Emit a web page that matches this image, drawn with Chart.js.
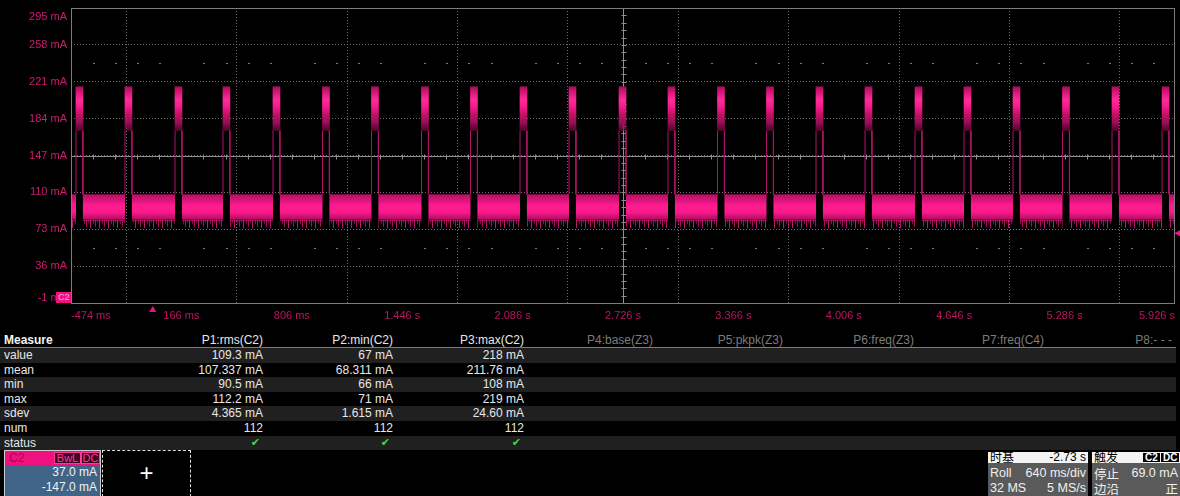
<!DOCTYPE html>
<html>
<head>
<meta charset="utf-8">
<script src="https://cdn.jsdelivr.net/npm/chart.js@4.4.1/dist/chart.umd.min.js"></script>
<style>
html, body { margin: 0; padding: 0; background: #000; }
body { width: 1180px; height: 496px; position: relative; overflow: hidden; font-family: "Liberation Sans", Arial, sans-serif; }
#scope { position: absolute; left: 0; top: 0; }
.row { position: absolute; left: 0; width: 1176px; }
.row.alt { background: #202020; }
.cell { position: absolute; top: 0; font-size: 12px; color: #e8e8e8; white-space: nowrap; }
.hdr { border-bottom: 1px solid #7a7a7a; }
.hdr .cell.off { color: #7c7c7c; }
.ok { color: #45d443; font-family: "DejaVu Sans", sans-serif; font-size: 11px; }
#chbox { position: absolute; left: 4px; top: 450px; width: 95px; height: 45px; border: 1px solid #cfcfcf; }
#chhead { position: absolute; left: 0; top: 0; width: 95px; height: 14px; background: #ef117f; }
#chhead .nm { position: absolute; left: 4px; top: 0; line-height: 14px; font-size: 12px; color: #9e0b4f; }
.badge { position: absolute; top: 1px; height: 10px; line-height: 10px; font-size: 11px; color: #ff3a9c; background: #3e0621; border: 1px solid #ff3a9c; text-align: center; }
#chbody { position: absolute; left: 0; top: 14px; width: 95px; height: 31px; background: #3f6487; color: #f2f2f2; font-size: 12px; text-align: right; }
#chbody div { padding-right: 3px; line-height: 15px; }
#addbox { position: absolute; left: 102px; top: 450px; width: 87px; height: 45px; border: 1px dashed #e0e0e0; color: #fff; font-size: 24px; text-align: center; line-height: 43px; font-weight: 300; }
.wbox { position: absolute; top: 452px; height: 11px; background: #f4f4f4; color: #000; font-size: 12px; line-height: 11px; }
.gbox { position: absolute; top: 463px; height: 33px; background: #5a5a5a; color: #f0f0f0; font-size: 12.5px; }
.l { position: absolute; left: 2px; white-space: nowrap; }
.r { position: absolute; right: 2px; white-space: nowrap; }
.cjk { font-family: "Noto Sans CJK SC", sans-serif; }
.kb { position: absolute; top: 1px; height: 9px; line-height: 9px; background: #000; color: #fff; font-size: 10px; padding: 0 2px; font-weight: bold; }
</style>
</head>
<body>
<canvas id="scope" width="1180" height="332"></canvas>
<div id="table"></div>

<div id="chbox">
  <div id="chhead"><span class="nm">C2</span><span class="badge" style="left:49px;width:25px;">BwL</span><span class="badge" style="left:76px;width:17px;">DC</span></div>
  <div id="chbody"><div>37.0 mA</div><div>-147.0 mA</div></div>
</div>
<div id="addbox">+</div>

<div class="wbox" style="left:988px;width:100px;"><span class="l cjk" style="top:-1px;">时基</span><span class="r">-2.73 s</span></div>
<div class="wbox" style="left:1092px;width:88px;"><span class="l cjk" style="top:-1px;">触发</span><span class="kb" style="left:51px;">C2</span><span class="kb" style="left:69px;">DC</span></div>
<div class="gbox" style="left:988px;width:100px;">
  <span class="l" style="top:3px;">Roll</span><span class="r" style="top:3px;">640 ms/div</span>
  <span class="l" style="top:18px;">32 MS</span><span class="r" style="top:18px;">5 MS/s</span>
</div>
<div class="gbox" style="left:1092px;width:88px;">
  <span class="l cjk" style="top:1px;">停止</span><span class="r" style="top:3px;">69.0 mA</span>
  <span class="l cjk" style="top:16px;">边沿</span><span class="r cjk" style="top:16px;">正</span>
</div>

<script>
// ── scope axes ──
const xTickValues = [-0.474, 0.166, 0.806, 1.446, 2.086, 2.726, 3.366, 4.006, 4.646, 5.286, 5.926];
const xTickLabels = ['-474 ms', '166 ms', '806 ms', '1.446 s', '2.086 s', '2.726 s', '3.366 s', '4.006 s', '4.646 s', '5.286 s', '5.926 s'];
const yTickValues = [-1, 36, 73, 110, 147, 184, 221, 258, 295];
const yTickLabels = ['-1 mA', '36 mA', '73 mA', '110 mA', '147 mA', '184 mA', '221 mA', '258 mA', '295 mA'];

// ── waveform ──
const pulseTimes = [-0.425, -0.141, 0.149, 0.427, 0.717, 1.004, 1.288, 1.578, 1.862, 2.149, 2.433, 2.723,
                    3.007, 3.294, 3.578, 3.865, 4.149, 4.439, 4.723, 5.007, 5.294, 5.581, 5.871];
const pulseHalfWidth = 0.02;   // s
const bandTop = 108;           // mA, idle current band
const bandBottom = 83;
const tailBottom = 74;
const pulseLow = 172;          // mA, pulse plateau
const pulseHigh = 216;
const triggerTime = 0;
const triggerLevel = 69;

// ── measurement table ──
const measureHeaders = ['P1:rms(C2)', 'P2:min(C2)', 'P3:max(C2)', 'P4:base(Z3)', 'P5:pkpk(Z3)', 'P6:freq(Z3)', 'P7:freq(C4)', 'P8:- - -'];
const measureRows = ['value', 'mean', 'min', 'max', 'sdev', 'num', 'status'];
const p1Values = ['109.3 mA', '107.337 mA', '90.5 mA', '112.2 mA', '4.365 mA', '112'];
const p2Values = ['67 mA', '68.311 mA', '66 mA', '71 mA', '1.615 mA', '112'];
const p3Values = ['218 mA', '211.76 mA', '108 mA', '219 mA', '24.60 mA', '112'];

const FONT = '"Liberation Sans", Arial, sans-serif';
const PINK = '#ec1380';

// band with gaps where the pulses sit
function bandSeries(level) {
    const pts = [{ x: xTickValues[0], y: level }];
    const mid = (bandTop + bandBottom) / 2;
    pulseTimes.forEach(t => {
        pts.push({ x: t - pulseHalfWidth, y: level }, { x: t - pulseHalfWidth, y: mid },
                 { x: t + pulseHalfWidth, y: mid }, { x: t + pulseHalfWidth, y: level });
    });
    pts.push({ x: xTickValues[xTickValues.length - 1], y: level });
    return pts;
}

const edgePoints = [];
pulseTimes.forEach(t => {
    edgePoints.push({ x: t - pulseHalfWidth, y: bandTop }, { x: t - pulseHalfWidth, y: pulseLow }, { x: t - pulseHalfWidth, y: null },
                    { x: t + pulseHalfWidth, y: pulseLow }, { x: t + pulseHalfWidth, y: bandTop }, { x: t + pulseHalfWidth, y: null });
});

function vGradient(chart, stops, fallback) {
    const { ctx, chartArea, scales } = chart;
    if (!chartArea || !scales.y) return fallback;
    const y = scales.y;
    const v0 = stops[0][0], v1 = stops[stops.length - 1][0];
    const g = ctx.createLinearGradient(0, y.getPixelForValue(v0), 0, y.getPixelForValue(v1));
    stops.forEach(([v, c]) => g.addColorStop((v - v0) / (v1 - v0), c));
    return g;
}

let teethPattern = null;
function teeth(chart) {
    const { chartArea, scales } = chart;
    if (!chartArea || !scales.y) return 'rgba(170,15,90,0.5)';
    if (teethPattern) return teethPattern;
    const y = scales.y;
    const c = document.createElement('canvas');
    c.width = 9; c.height = Math.ceil(chartArea.bottom) + 2;
    const g = c.getContext('2d');
    const top = y.getPixelForValue(bandBottom);
    g.fillStyle = 'rgba(185,16,98,0.75)';
    g.fillRect(0, top, 9, y.getPixelForValue(bandBottom - 2) - top);
    [[0, tailBottom, 0.95], [3, tailBottom + 4, 0.6], [5, tailBottom + 1.5, 0.8], [7, tailBottom + 5, 0.5]].forEach(([cx, lv, a]) => {
        g.fillStyle = `rgba(205,20,112,${a})`;
        g.fillRect(cx, top, 1, y.getPixelForValue(lv) - top);
    });
    teethPattern = chart.ctx.createPattern(c, 'repeat');
    return teethPattern;
}

// grid cross, minor ticks, frame and markers
const scopeDecor = {
    id: 'scopeDecor',
    beforeDatasetsDraw(chart) {
        const { ctx, chartArea: a, scales: { x, y } } = chart;
        const divT = xTickValues[1] - xTickValues[0];
        const divA = yTickValues[1] - yTickValues[0];
        const cx = Math.round(x.getPixelForValue(xTickValues[5])) + 0.5;
        const cy = Math.round(y.getPixelForValue(yTickValues[4])) + 0.5;
        ctx.save();
        ctx.strokeStyle = '#8e8e8e';
        ctx.lineWidth = 1;
        ctx.beginPath();
        ctx.moveTo(a.left, cy); ctx.lineTo(a.right, cy);
        ctx.moveTo(cx, a.top); ctx.lineTo(cx, a.bottom);
        for (let k = 1; k < (xTickValues.length - 1) * 5; k++) {
            const px = Math.round(x.getPixelForValue(xTickValues[0] + k * divT / 5)) + 0.5;
            ctx.moveTo(px, cy - 2); ctx.lineTo(px, cy + 3);
        }
        for (let k = 1; k < (yTickValues.length - 1) * 5; k++) {
            const py = Math.round(y.getPixelForValue(yTickValues[0] + k * divA / 5)) + 0.5;
            ctx.moveTo(cx - 2, py); ctx.lineTo(cx + 3, py);
        }
        ctx.stroke();
        ctx.fillStyle = '#7a7a7a';
        [yTickValues[1] + divA / 2, yTickValues[7] - divA / 2].forEach(v => {
            const py = Math.round(y.getPixelForValue(v));
            for (let k = 1; k < (xTickValues.length - 1) * 5; k++) {
                if (k % 5 === 0) continue;
                const px = Math.round(x.getPixelForValue(xTickValues[0] + k * divT / 5));
                ctx.fillRect(px, py, 2, 1);
            }
        });
        ctx.restore();
    },
    afterDatasetsDraw(chart) {
        const { ctx, chartArea: a, scales: { x, y } } = chart;
        ctx.save();
        ctx.strokeStyle = '#7c7c7c';
        ctx.lineWidth = 1;
        ctx.strokeRect(a.left + 0.5, a.top + 0.5, a.right - a.left - 1, a.bottom - a.top);
        // trigger level marker
        const ty = y.getPixelForValue(triggerLevel);
        ctx.fillStyle = PINK;
        ctx.beginPath();
        ctx.moveTo(a.right - 1, ty); ctx.lineTo(a.right + 5, ty - 3); ctx.lineTo(a.right + 5, ty + 3);
        ctx.closePath(); ctx.fill();
        // trigger time marker
        const tx = x.getPixelForValue(triggerTime);
        ctx.beginPath();
        ctx.moveTo(tx, a.bottom + 3); ctx.lineTo(tx - 3.5, a.bottom + 9); ctx.lineTo(tx + 3.5, a.bottom + 9);
        ctx.closePath(); ctx.fill();
        // channel badge
        ctx.fillStyle = PINK;
        ctx.fillRect(a.left - 15, a.bottom - 11, 15, 11);
        ctx.fillStyle = '#ffa8d4';
        ctx.font = '9px ' + FONT;
        ctx.textBaseline = 'middle';
        ctx.fillText('C2', a.left - 13, a.bottom - 5);
        ctx.restore();
    }
};

new Chart(document.getElementById('scope'), {
    type: 'line',
    data: {
        datasets: [
            {
                data: bandSeries(bandTop), fill: '+1', borderWidth: 0, borderColor: 'transparent', pointRadius: 0,
                backgroundColor: c => vGradient(c.chart, [[bandTop + 1, '#8e0c4e'], [bandTop - 1.5, '#c0126a'], [bandTop - 6, '#d8147a'],
                    [bandTop - 11, '#ff1c90'], [bandTop - 18, '#fa1a8a'], [bandTop - 21, '#d81478'], [bandBottom, '#b01062']], '#e0147a')
            },
            {
                data: bandSeries(bandBottom), fill: '+1', borderWidth: 0, borderColor: 'transparent', pointRadius: 0,
                backgroundColor: c => teeth(c.chart)
            },
            { data: bandSeries(tailBottom), fill: false, borderWidth: 0, borderColor: 'transparent', pointRadius: 0 },
            { data: edgePoints, fill: false, borderWidth: 1, borderColor: '#b0136a', pointRadius: 0 },
            {
                type: 'bar',
                data: pulseTimes.map(t => ({ x: t, y: [pulseLow, pulseHigh] })),
                barThickness: 7, maxBarThickness: 7, borderWidth: 0,
                backgroundColor: c => vGradient(c.chart, [[pulseHigh, '#a00e58'], [pulseHigh - 4, '#cf1373'], [pulseHigh - 13, '#ff2a98'],
                    [pulseHigh - 20, '#f31c8a'], [pulseHigh - 28, '#c01268'], [pulseHigh - 36, '#9a0e56'], [pulseLow, 'rgba(130,10,70,0.6)']], '#d0137a')
            }
        ]
    },
    options: {
        responsive: false,
        animation: false,
        events: [],
        layout: { padding: { top: 8, right: 5, left: 0, bottom: 0 } },
        plugins: { legend: { display: false }, tooltip: { enabled: false } },
        scales: {
            x: {
                type: 'linear', offset: false,
                min: xTickValues[0], max: xTickValues[xTickValues.length - 1],
                afterBuildTicks: s => { s.ticks = xTickValues.map(v => ({ value: v })); },
                afterFit: s => { s.height = 29; s.paddingLeft = 0; s.paddingRight = 0; },
                ticks: {
                    align: 'inner', padding: 6, maxRotation: 0, autoSkip: false,
                    color: '#b8185f', font: { family: FONT, size: 11 },
                    callback: (v, i) => xTickLabels[i]
                },
                grid: { color: '#6e6e6e', drawTicks: false },
                border: { display: false, dash: [1, 2] }
            },
            y: {
                min: yTickValues[0], max: yTickValues[yTickValues.length - 1],
                afterBuildTicks: s => { s.ticks = yTickValues.map(v => ({ value: v })); },
                afterFit: s => { s.width = 71; s.paddingTop = 0; s.paddingBottom = 0; },
                ticks: {
                    padding: 4, autoSkip: false, color: '#cc1d70',
                    font: c => ({ family: FONT, size: 11, lineHeight: c.index === yTickValues.length - 1 ? 1.6 : 1.0 }),
                    callback: (v, i) => i === 0 ? [yTickLabels[0], ''] : i === yTickValues.length - 1 ? ['', yTickLabels[i]] : yTickLabels[i]
                },
                grid: { color: '#6e6e6e', drawTicks: false },
                border: { display: false, dash: [1, 2] }
            }
        }
    },
    plugins: [scopeDecor]
});

// ── measurement table ──
const colRight = [267, 397, 528, 657, 787, 918, 1048, 1176];
const rowTop = 348, rowH = 14.6;
const table = document.getElementById('table');
function cell(parent, text, right, cls) {
    const s = document.createElement('span');
    s.className = 'cell' + (cls ? ' ' + cls : '');
    s.textContent = text;
    if (right == null) s.style.left = '4px'; else s.style.right = (1180 - right) + 'px';
    parent.appendChild(s);
    return s;
}
const hdr = document.createElement('div');
hdr.className = 'row hdr';
hdr.style.top = '333px'; hdr.style.height = '14px'; hdr.style.lineHeight = '15px';
const m = cell(hdr, 'Measure'); m.style.fontWeight = 'bold'; m.style.color = '#f4f4f4';
measureHeaders.forEach((h, i) => cell(hdr, h, colRight[i], i < 3 ? '' : 'off'));
table.appendChild(hdr);

const cols = [p1Values, p2Values, p3Values];
measureRows.forEach((name, r) => {
    const row = document.createElement('div');
    row.className = 'row' + (r % 2 === 0 ? ' alt' : '');
    row.style.top = (rowTop + r * rowH) + 'px';
    row.style.height = rowH + 'px';
    row.style.lineHeight = rowH + 'px';
    cell(row, name);
    cols.forEach((vals, c) => {
        if (name === 'status') cell(row, '\u2714', colRight[c] - 3, 'ok');
        else cell(row, vals[r], colRight[c]);
    });
    table.appendChild(row);
});
</script>
</body>
</html>
